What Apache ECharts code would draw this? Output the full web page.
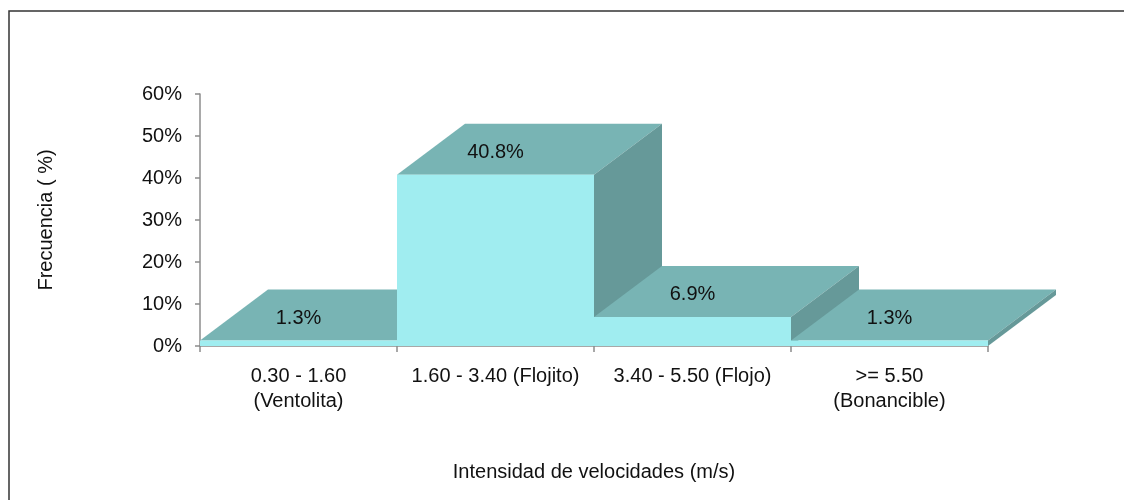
<!DOCTYPE html>
<html>
<head>
<meta charset="utf-8">
<script src="https://cdn.jsdelivr.net/npm/echarts@6/dist/echarts.min.js"></script>
<style>
html,body{margin:0;padding:0;background:#fff;}
#chart{width:1124px;height:500px;}
</style>
</head>
<body>
<div id="chart"></div>
<script>
const categories = ['0.30 - 1.60\n(Ventolita)', '1.60 - 3.40 (Flojito)', '3.40 - 5.50 (Flojo)', '>= 5.50\n(Bonancible)'];
const values = [1.3, 40.8, 6.9, 1.3];
const yTicks = [0, 10, 20, 30, 40, 50, 60];

const DX = 68, DY = -51;
const FONT = 'Liberation Sans, Arial, sans-serif';
const FS = 20;

const chart = echarts.init(document.getElementById('chart'));

function renderItem(params, api) {
  const idx = api.value(0);
  const val = api.value(1);
  const top = api.coord([idx, val]);
  const base = api.coord([idx, 0]);
  const w = api.size([1, 0])[0];
  const x0 = top[0] - w / 2, x1 = top[0] + w / 2;
  const yt = top[1], yb = base[1];
  return {
    type: 'group',
    children: [
      { type: 'polygon', shape: { points: [[x0, yt], [x1, yt], [x1 + DX, yt + DY], [x0 + DX, yt + DY]] },
        style: { fill: '#78b4b4' } },
      { type: 'polygon', shape: { points: [[x1, yt], [x1 + DX, yt + DY], [x1 + DX, yb + DY], [x1, yb]] },
        style: { fill: '#669999' } },
      { type: 'rect', shape: { x: x0, y: yt, width: w, height: yb - yt },
        style: { fill: '#a0edf0' } },
      { type: 'text', x: top[0], y: yt + DY / 2 + 3,
        style: { text: val.toFixed(1) + '%', fill: '#111', font: FS + 'px ' + FONT, align: 'center', verticalAlign: 'middle' } }
    ]
  };
}

chart.setOption({
  backgroundColor: '#fff',
  animation: false,
  graphic: [{
    type: 'rect', shape: { x: 9, y: 11, width: 1300, height: 700 },
    style: { fill: 'none', stroke: '#333', lineWidth: 1.5 }, z: 100
  }],
  grid: { left: 200, right: 136, top: 94, bottom: 154, containLabel: false },
  xAxis: {
    type: 'category',
    data: categories,
    boundaryGap: true,
    name: 'Intensidad de velocidades (m/s)',
    nameLocation: 'middle',
    nameGap: 116,
    nameTextStyle: { fontFamily: FONT, fontSize: FS, color: '#111' },
    axisLine: { show: true, lineStyle: { color: '#8c8c8c', width: 1.5 } },
    axisTick: { show: true, length: 6, lineStyle: { color: '#8c8c8c', width: 1.5 } },
    axisLabel: { fontFamily: FONT, fontSize: FS, color: '#111', margin: 18, lineHeight: 25, interval: 0 },
    splitLine: { show: false }
  },
  yAxis: {
    type: 'value',
    min: yTicks[0],
    max: yTicks[yTicks.length - 1],
    interval: 10,
    name: 'Frecuencia ( %)',
    nameLocation: 'middle',
    nameGap: 144,
    nameRotate: 90,
    nameTextStyle: { fontFamily: FONT, fontSize: FS, color: '#111' },
    axisLine: { show: true, lineStyle: { color: '#8c8c8c', width: 1.5 } },
    axisTick: { show: true, inside: false, length: 5, lineStyle: { color: '#8c8c8c', width: 1.5 } },
    axisLabel: { fontFamily: FONT, fontSize: FS, color: '#111', margin: 18, padding: [4, 0, 0, 0], formatter: '{value}%' },
    splitLine: { show: false }
  },
  series: [{
    type: 'custom',
    renderItem: renderItem,
    encode: { x: 0, y: 1 },
    data: values.map((v, i) => [i, v]),
    clip: false
  }]
});
</script>
</body>
</html>
